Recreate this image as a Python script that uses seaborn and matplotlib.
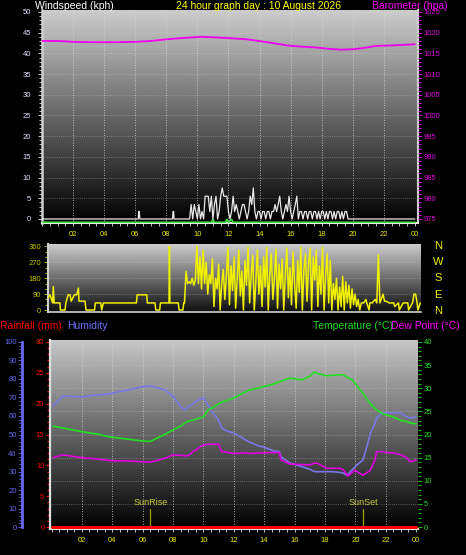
import numpy as np
import matplotlib
matplotlib.use("Agg")
import matplotlib.pyplot as plt
import seaborn as sns
from matplotlib.ticker import MultipleLocator, FixedLocator

sns.set_style("dark")
plt.rcParams['font.family'] = ['Liberation Sans', 'DejaVu Sans']

# ---------------- data ----------------
# barometer (hpa)
baro_hours = [0.0, 0.2, 1.0, 2.25, 3.5, 4.8, 6.1, 7.0, 8.0, 9.0, 10.2, 11.0, 12.0, 13.2, 14.5,
              15.8, 16.8, 17.7, 18.5, 19.2, 20.0, 20.5, 21.5, 22.3, 23.0, 24.0]
baro_hpa = [1018.0, 1018.0, 1018.0, 1017.75, 1017.7, 1017.7, 1017.8, 1018.0, 1018.4, 1018.7, 1019.0,
            1018.9, 1018.7, 1018.4, 1017.7, 1016.9, 1016.6, 1016.4, 1016.1, 1015.9, 1016.0, 1016.2,
            1016.8, 1016.9, 1017.0, 1017.2]

# wind speed (kph), quiet part plus busy part sampled every 0.1 h from 9.4 h
wind_quiet_hours = [0.0, 6.2, 6.22, 6.26, 6.3, 8.4, 8.43, 8.47, 8.5, 9.3]
wind_quiet_kph = [0, 0, 1.8, 1.8, 0, 0, 1.8, 1.8, 0, 0]
wind_busy_start = 9.4
wind_busy_kph = [0, 0, 3.5, 0, 3.5, 1.8, 0, 3.5, 0, 1.8,
                 0, 5.5, 5.5, 5.5, 1.8, 5.5, 0, 3.5, 5.5, 0,
                 1.8, 5.5, 7.5, 5.5, 5.5, 5.5, 1.8, 0, 1.8, 5.5,
                 1.8, 3.5, 1.8, 0, 1.8, 3.5, 3.5, 1.8, 0, 1.8,
                 5.5, 3.5, 7.5, 1.8, 0, 1.8, 1.8, 0, 1.8, 1.8,
                 0, 1.8, 1.8, 0, 1.8, 1.8, 3.5, 1.8, 3.5, 5.5,
                 1.8, 0, 1.8, 3.5, 1.8, 5.5, 1.8, 0, 1.8, 3.5,
                 5.5, 0, 1.8, 1.8, 0, 1.8, 1.8, 0, 1.8, 1.8,
                 0, 1.8, 1.8, 0, 1.8, 0, 1.8, 1.8, 0, 1.8,
                 0, 1.8, 1.8, 0, 1.8, 0, 1.8, 1.8, 0, 1.8,
                 0, 1.8, 1.8, 0, 0]
wind_tail_hours = [19.9, 24.0]
wind_tail_kph = [0, 0]
gust_hours = [0.0, 10.9, 11.0, 11.1, 11.8, 11.9, 12.0, 12.2, 12.3, 24.0]
gust_kph = [-0.8, -0.8, -0.1, -0.8, -0.8, -0.1, -0.8, -0.1, -0.8, -0.8]

# wind direction (deg)
dir_early_hours = [0.0, 0.13, 0.3, 0.34, 0.4, 0.45, 0.77, 0.8, 1.1, 1.15, 1.3, 1.42, 1.5, 1.7,
                   1.85, 1.96, 2.0, 2.06, 2.39, 2.45, 3.0, 3.05, 3.4, 3.46, 3.57, 5.7, 5.75,
                   6.37, 6.4, 6.9, 6.95, 7.2, 7.25, 7.8, 7.83, 7.86, 8.4, 8.45, 8.7, 8.75]
dir_early_deg = [68, 86, 40, 133, 40, 40, 40, 0, 0, 40, 86, 86, 50, 86,
                 86, 124, 50, 50, 50, 0, 0, 40, 40, 0, 40, 40, 86,
                 86, 40, 40, 0, 0, 40, 40, 360, 40, 40, 0, 0, 40]
dir_busy_start = 8.8
dir_busy_deg = [40, 219, 150, 160, 150, 180, 140, 170, 360, 150,
                300, 120, 340, 150, 270, 90, 200, 150, 290, 20,
                180, 120, 260, 0, 150, 230, 60, 190, 355, 30,
                250, 110, 300, 10, 170, 340, 80, 220, 0, 280,
                140, 355, 40, 200, 310, 0, 160, 340, 90, 250,
                20, 300, 130, 355, 0, 210, 320, 60, 180, 345,
                10, 260, 120, 290, 0, 200, 350, 70, 240, 30,
                330, 150, 10, 280, 100, 355, 0, 230, 320, 50,
                260, 350, 0, 300, 170, 340, 20, 250, 90, 355,
                0, 200, 320, 40, 280, 0, 150, 60, 180, 0,
                130, 20, 190, 0, 160, 40, 140, 10, 120, 30,
                90, 20, 60, 0, 40]
dir_late_hours = [20.35, 20.5, 20.55, 20.7, 20.75, 20.9, 21.1, 21.2, 21.3, 21.4, 21.6, 21.7,
                  21.8, 22.0, 22.3, 22.35, 22.6, 22.65, 22.9, 23.2, 23.25, 23.5, 23.6, 23.7,
                  23.8, 23.85, 24.0]
dir_late_deg = [40, 60, 40, 0, 40, 40, 60, 40, 313, 40, 90, 50,
                50, 40, 40, 20, 40, 0, 40, 40, 0, 40, 90, 90,
                40, 0, 40]

# temperature / dew point (C), humidity (%), rainfall (mm)
th_hours = [0.1, 0.75, 2.0, 3.0, 3.8, 4.0, 5.0, 6.0, 6.5, 7.5, 8.0, 8.5, 8.8, 9.0, 9.3, 9.5, 9.8,
            10.0, 10.3, 10.5, 11.0, 11.2, 11.5, 12.0, 12.8, 13.0, 13.7, 13.9, 14.6, 15.0, 15.1,
            15.7, 16.5, 17.0, 17.3, 17.5, 18.0, 18.1, 18.5, 19.0, 19.2, 19.4, 19.5, 19.8, 20.0,
            20.1, 20.5, 20.7, 21.0, 21.3, 21.4, 21.8, 22.0, 22.5, 22.9, 23.0, 23.4, 23.6, 24.0]
temp_c = [21.8, 21.4, 20.6, 20.1, 19.5, 19.4, 19.0, 18.6, 18.5, 20.1, 21.0, 21.8, 22.5, 22.9, 23.1,
          23.3, 23.6, 23.8, 25.3, 25.6, 26.6, 27.0, 27.3, 27.9, 29.3, 29.6, 30.1, 30.3, 30.9, 31.4,
          31.5, 32.2, 31.8, 32.6, 33.5, 33.2, 32.8, 32.7, 32.8, 32.9, 32.9, 32.5, 32.3, 31.8, 31.0,
          30.5, 29.0, 28.0, 26.6, 25.6, 25.3, 24.5, 24.3, 23.8, 23.2, 23.0, 22.8, 22.5, 22.3]
dew_c = [15.0, 15.6, 15.0, 14.7, 14.4, 14.3, 14.3, 14.1, 14.0, 14.9, 15.6, 15.5, 15.4, 15.4, 16.3,
         16.6, 17.4, 17.7, 17.9, 17.9, 17.9, 16.3, 16.2, 15.9, 16.0, 15.9, 16.0, 16.0, 16.1, 16.1,
         14.5, 13.6, 13.5, 13.4, 13.8, 13.8, 12.9, 12.7, 12.7, 12.7, 12.4, 11.6, 11.0, 11.8, 12.3,
         12.0, 11.2, 11.6, 12.3, 14.5, 16.3, 16.3, 16.1, 16.0, 15.7, 15.6, 15.0, 14.1, 14.5]
humidity_pct = [65.4, 70.8, 70.3, 71.4, 71.9, 72.4, 74.0, 75.8, 76.2, 74.0, 70.8, 65.0, 63.2, 64.8,
                66.5, 67.7, 69.2, 70.0, 66.0, 63.0, 57.8, 53.5, 52.0, 50.8, 47.0, 46.0, 43.6, 43.4,
                41.2, 40.7, 38.0, 34.6, 32.6, 31.2, 30.0, 29.9, 29.9, 29.9, 29.9, 29.5, 29.2, 28.1,
                28.3, 31.0, 32.6, 33.5, 36.2, 41.6, 50.8, 56.0, 59.0, 61.6, 61.8, 61.8, 61.8, 61.5,
                59.5, 59.0, 59.5]
rain_hours = [0.0, 24.0]
rain_mm = [0.0, 0.0]

sunrise_hour = 6.5
sunset_hour = 20.5

hour_ticks = [2, 4, 6, 8, 10, 12, 14, 16, 18, 20, 22, 24]
hour_labels = ['02', '04', '06', '08', '10', '12', '14', '16', '18', '20', '22', '00']
compass_labels = ['N', 'W', 'S', 'E', 'N']

# ---------------- layout helpers ----------------
W, H = 466, 555
BG = 'black'
TICK_FS = 5.5


def box(l, t, r, b):
    return [l / W, 1 - b / H, (r - l) / W, (b - t) / H]


def gradient(ax, top, bottom):
    vals = np.linspace(top, bottom, 256).reshape(-1, 1)
    ax.imshow(vals, cmap='gray', vmin=0, vmax=1, extent=[0, 1, 0, 1],
              transform=ax.transAxes, aspect='auto', zorder=0, interpolation='bilinear')


def style_panel(ax):
    ax.set_facecolor('none')
    for s in ax.spines.values():
        s.set_visible(False)
    ax.grid(False)


def draw(ax, x, y, color, lw=1.0, z=3):
    sns.lineplot(x=x, y=y, ax=ax, color=color, linewidth=lw, estimator=None,
                 sort=False, legend=False, zorder=z)
    ax.set_xlabel('')
    ax.set_ylabel('')


def xgrid(ax, ymin, ymax):
    for h in hour_ticks[:-1]:
        ax.plot([h, h], [ymin, ymax], color='#d8d8d8', lw=0.6, ls=(0, (1, 2)), zorder=1)


fig = plt.figure(figsize=(W / 100, H / 100), dpi=100, facecolor=BG)

# ---------------- top panel: wind speed + barometer ----------------
ax1 = fig.add_axes(box(42, 10, 418, 223))
style_panel(ax1)
gradient(ax1, 0.80, 0.0)
ax1.set_xlim(0, 24.2)
ax1.set_ylim(-0.97, 50.48)
xgrid(ax1, -0.97, 50.48)
for v in range(5, 51, 5):
    ax1.axhline(v, color='#d8d8d8', lw=0.5, ls=(0, (1, 2)), alpha=0.6, zorder=1)

wind_busy_hours = list(np.round(wind_busy_start + 0.1 * np.arange(len(wind_busy_kph)), 2))
wind_h = wind_quiet_hours + wind_busy_hours + wind_tail_hours
wind_v = wind_quiet_kph + wind_busy_kph + wind_tail_kph
draw(ax1, gust_hours, gust_kph, '#40e040', 1.2, 3)
draw(ax1, wind_h, wind_v, '#e8e8e8', 0.9, 4)

ax1.spines['left'].set_visible(True)
ax1.spines['left'].set_color('#d0d0d0')
ax1.spines['left'].set_linewidth(1.8)
ax1.spines['bottom'].set_visible(True)
ax1.spines['bottom'].set_color('#e8e8e8')
ax1.spines['bottom'].set_linewidth(1.5)
ax1.spines['right'].set_visible(True)
ax1.spines['right'].set_color('#d0d0d0')
ax1.spines['right'].set_linewidth(1.5)
ax1.yaxis.set_major_locator(MultipleLocator(5))
ax1.yaxis.set_minor_locator(MultipleLocator(1))
ax1.set_yticks(range(0, 51, 5))
ax1.tick_params(axis='y', which='both', colors='#e0e0ff', labelsize=TICK_FS, length=3, width=0.6,
                pad=5, left=True)
ax1.tick_params(axis='y', which='minor', length=2)
ax1.set_xticks(hour_ticks)
ax1.set_xticklabels(hour_labels)
ax1.xaxis.set_minor_locator(MultipleLocator(0.5))
ax1.tick_params(axis='x', which='both', colors='#e0e0e0', labelcolor='#e8e800', labelsize=TICK_FS,
                length=2, width=0.6, pad=4, bottom=True)

ax1b = ax1.twinx()
style_panel(ax1b)
ax1b.set_ylim(974.03, 1025.48)
draw(ax1b, baro_hours, baro_hpa, '#f000f0', 1.3, 5)
ax1b.set_yticks(range(975, 1026, 5))
ax1b.yaxis.set_minor_locator(MultipleLocator(1))
ax1b.tick_params(axis='y', which='both', colors='#e000e0', labelsize=TICK_FS, length=3, width=0.6,
                 pad=1, right=True)
ax1b.tick_params(axis='y', which='minor', length=2)

# ---------------- middle panel: wind direction ----------------
ax2 = fig.add_axes(box(48, 244, 421, 312))
style_panel(ax2)
gradient(ax2, 0.80, 0.06)
ax2.set_xlim(0, 24.05)
ax2.set_ylim(-11.3, 373.6)
for v in [90, 180, 270, 360]:
    ax2.axhline(v, color='#d8d8d8', lw=0.5, ls=(0, (1, 2)), alpha=0.6, zorder=1)
dir_busy_hours = list(np.round(dir_busy_start + 0.1 * np.arange(len(dir_busy_deg)), 2))
dir_h = dir_early_hours + dir_busy_hours + dir_late_hours
dir_v = dir_early_deg + dir_busy_deg + dir_late_deg
draw(ax2, dir_h, dir_v, '#f0f000', 1.1, 3)
ax2.spines['left'].set_visible(True)
ax2.spines['left'].set_color('#d0d0d0')
ax2.spines['left'].set_linewidth(1.5)
ax2.spines['bottom'].set_visible(True)
ax2.spines['bottom'].set_color('#d0d0d0')
ax2.spines['bottom'].set_linewidth(1.2)
ax2.set_yticks([0, 90, 180, 270, 360])
ax2.yaxis.set_minor_locator(MultipleLocator(30))
ax2.tick_params(axis='y', which='both', colors='#c8c800', labelsize=TICK_FS, length=3, width=0.6,
                pad=2, left=True)
ax2.tick_params(axis='y', which='minor', length=2)
ax2.set_xticks([])

for lab, yp in zip(compass_labels, [246, 262, 278, 295, 311]):
    fig.text(438 / W, 1 - yp / H, lab, color='#f0f000', fontsize=8, ha='center', va='center')

# ---------------- bottom panel: rain / humidity / temperature / dew point ----------------
ax3 = fig.add_axes(box(50, 340, 418, 529))
style_panel(ax3)
gradient(ax3, 0.78, 0.0)
ax3.set_xlim(-0.1, 24.13)
t_lim = (-0.43, 40.43)
ax3.set_ylim(t_lim[0] * 0.75, t_lim[1] * 0.75)
xgrid(ax3, t_lim[0] * 0.75, t_lim[1] * 0.75)
for v in range(5, 41, 5):
    ax3.axhline(v * 0.75, color='#d8d8d8', lw=0.5, ls=(0, (1, 2)), alpha=0.6, zorder=1)

# sunrise / sunset markers
for hr, lab in [(sunrise_hour, 'SunRise'), (sunset_hour, 'SunSet')]:
    ax3.plot([hr, hr], [0, 3.8 * 0.75], color='#a0a000', lw=0.9, zorder=2)
    ax3.text(hr, 4.4 * 0.75, lab, color='#c8c840', fontsize=6.5, ha='center', va='bottom', zorder=2)

draw(ax3, rain_hours, rain_mm, '#ff0000', 2.2, 6)
ax3.spines['left'].set_visible(True)
ax3.spines['left'].set_color('#e0e0e0')
ax3.spines['left'].set_linewidth(1.6)
ax3.spines['bottom'].set_visible(True)
ax3.spines['bottom'].set_color('#e8e8e8')
ax3.spines['bottom'].set_linewidth(1.5)
ax3.set_yticks(range(0, 31, 5))
ax3.yaxis.set_minor_locator(MultipleLocator(1))
ax3.tick_params(axis='y', which='both', colors='#ff0000', labelsize=TICK_FS, length=3, width=0.8,
                pad=1, left=True)
ax3.tick_params(axis='y', which='minor', length=2)
ax3.set_xticks(hour_ticks)
ax3.set_xticklabels(hour_labels)
ax3.xaxis.set_minor_locator(MultipleLocator(0.5))
ax3.tick_params(axis='x', which='both', colors='#e0e0e0', labelcolor='#e8e800', labelsize=TICK_FS,
                length=2, width=0.6, pad=4, bottom=True)

# humidity axis, offset to the left
ax3h = ax3.twinx()
style_panel(ax3h)
ax3h.set_ylim(t_lim[0] * 2.5, t_lim[1] * 2.5)
ax3h.spines['left'].set_visible(True)
ax3h.spines['left'].set_position(('outward', 20))
ax3h.spines['left'].set_color('#6868f0')
ax3h.spines['left'].set_linewidth(2.0)
ax3h.spines['left'].set_bounds(0, 100)
ax3h.yaxis.set_ticks_position('left')
ax3h.yaxis.set_label_position('left')
ax3h.set_yticks(range(0, 101, 10))
ax3h.yaxis.set_minor_locator(MultipleLocator(2))
ax3h.tick_params(axis='y', which='both', colors='#6868f0', labelsize=TICK_FS, length=3, width=0.6,
                 pad=1, left=True, right=False)
ax3h.tick_params(axis='y', which='minor', length=2)
draw(ax3h, th_hours, humidity_pct, '#7878e8', 1.2, 3)

# temperature axis on the right
ax3t = ax3.twinx()
style_panel(ax3t)
ax3t.set_ylim(*t_lim)
draw(ax3t, th_hours, dew_c, '#e000e0', 1.2, 4)
draw(ax3t, th_hours, temp_c, '#20e020', 1.2, 5)
ax3t.set_yticks(range(0, 41, 5))
ax3t.yaxis.set_minor_locator(MultipleLocator(1))
ax3t.tick_params(axis='y', which='both', colors='#20e020', labelsize=TICK_FS, length=3, width=0.6,
                 pad=1, right=True)
ax3t.tick_params(axis='y', which='minor', length=2)

# ---------------- header texts ----------------
TITLE_FS = 7.5
fig.text(35 / W, 1 - 6 / H, 'Windspeed (kph)', color='white', fontsize=TITLE_FS, ha='left', va='center')
fig.text(258 / W, 1 - 6 / H, '24 hour graph day : 10 August 2026', color='#ffff00', fontsize=TITLE_FS,
         ha='center', va='center')
fig.text(372 / W, 1 - 6 / H, 'Barometer (hpa)', color='#ff00ff', fontsize=TITLE_FS, ha='left', va='center')

fig.text(0 / W, 1 - 326 / H, 'Rainfall (mm)', color='#ff0000', fontsize=TITLE_FS, ha='left', va='center')
fig.text(67 / W, 1 - 326 / H, 'Humidity', color='#7070ff', fontsize=TITLE_FS, ha='left', va='center')
fig.text(313 / W, 1 - 326 / H, 'Temperature (°C)', color='#20e020', fontsize=TITLE_FS, ha='left', va='center')
fig.text(391 / W, 1 - 326 / H, 'Dew Point (°C)', color='#ff00ff', fontsize=TITLE_FS, ha='left', va='center')

fig.savefig('out.png', dpi=100, facecolor=BG)
